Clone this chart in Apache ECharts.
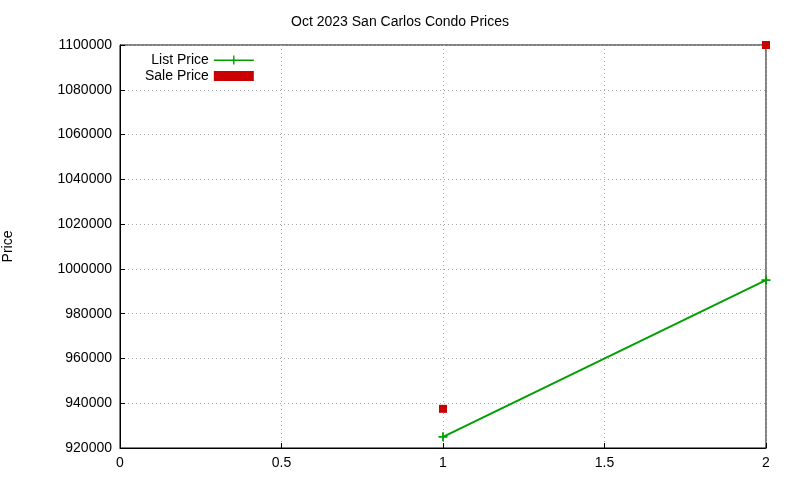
<!DOCTYPE html>
<html><head><meta charset="utf-8">
<script src="https://cdn.jsdelivr.net/npm/echarts@6/dist/echarts.min.js"></script>
</head><body style="margin:0">
<div id="c" style="width:800px;height:480px"></div>
<script>
const listX = [1, 2];
const listPrice = [925000, 995000];
const saleX = [1, 2];
const salePrice = [937500, 1100000];
const chart = echarts.init(document.getElementById('c'));
const axisCommon = {
  axisLine: {show: true, lineStyle: {color: '#000'}},
  axisTick: {show: true, inside: true, lineStyle: {color: '#000'}},
  axisLabel: {color: '#000', fontSize: 14, fontFamily: 'Liberation Sans, Arial'},
  splitLine: {show: true, lineStyle: {color: '#aaa', type: [1, 3]}}
};
chart.setOption({
  animation: false,
  title: {text: 'Oct 2023 San Carlos Condo Prices', left: 'center', top: 10,
    textStyle: {fontSize: 14, fontWeight: 'normal', color: '#000', fontFamily: 'Liberation Sans, Arial'}},
  grid: {left: 120, right: 34, top: 45, bottom: 32, containLabel: false, outerBoundsMode: 'none', show: true, borderColor: '#000', borderWidth: 1},
  legend: {orient: 'vertical', left: 140, top: 48, align: 'right', itemGap: 2, itemWidth: 40, itemHeight: 10,
    textStyle: {fontSize: 14, color: '#000', fontFamily: 'Liberation Sans, Arial'},
    data: [{name: 'List Price', icon: 'path://M0,5L40,5L40,6.5L0,6.5ZM19.3,1L20.7,1L20.7,10L19.3,10Z'},
           {name: 'Sale Price', icon: 'path://M0,0L40,0L40,10L0,10ZM16,1L24,1L24,9L16,9Z'}]},
  xAxis: Object.assign({type: 'value', min: 0, max: 2, interval: 0.5}, axisCommon),
  yAxis: Object.assign({type: 'value', min: 920000, max: 1100000, interval: 20000, name: 'Price',
    nameLocation: 'middle', nameGap: 105, nameTextStyle: {fontSize: 14, color: '#000', fontFamily: 'Liberation Sans, Arial'}}, axisCommon,
    {axisLabel: Object.assign({}, axisCommon.axisLabel, {formatter: v => String(v)})}),
  series: [
    {name: 'List Price', type: 'line', data: listX.map((x, i) => [x, listPrice[i]]),
      itemStyle: {color: '#00a000'}, lineStyle: {color: '#00a000', width: 2},
      symbol: 'path://M4,0L6,0L6,4L10,4L10,6L6,6L6,10L4,10L4,6L0,6L0,4L4,4Z', symbolSize: 9},
    {name: 'Sale Price', type: 'scatter', data: saleX.map((x, i) => [x, salePrice[i]]),
      itemStyle: {color: '#cc0000', opacity: 1}, symbol: 'rect', symbolSize: 8}
  ]
});
</script></body></html>
